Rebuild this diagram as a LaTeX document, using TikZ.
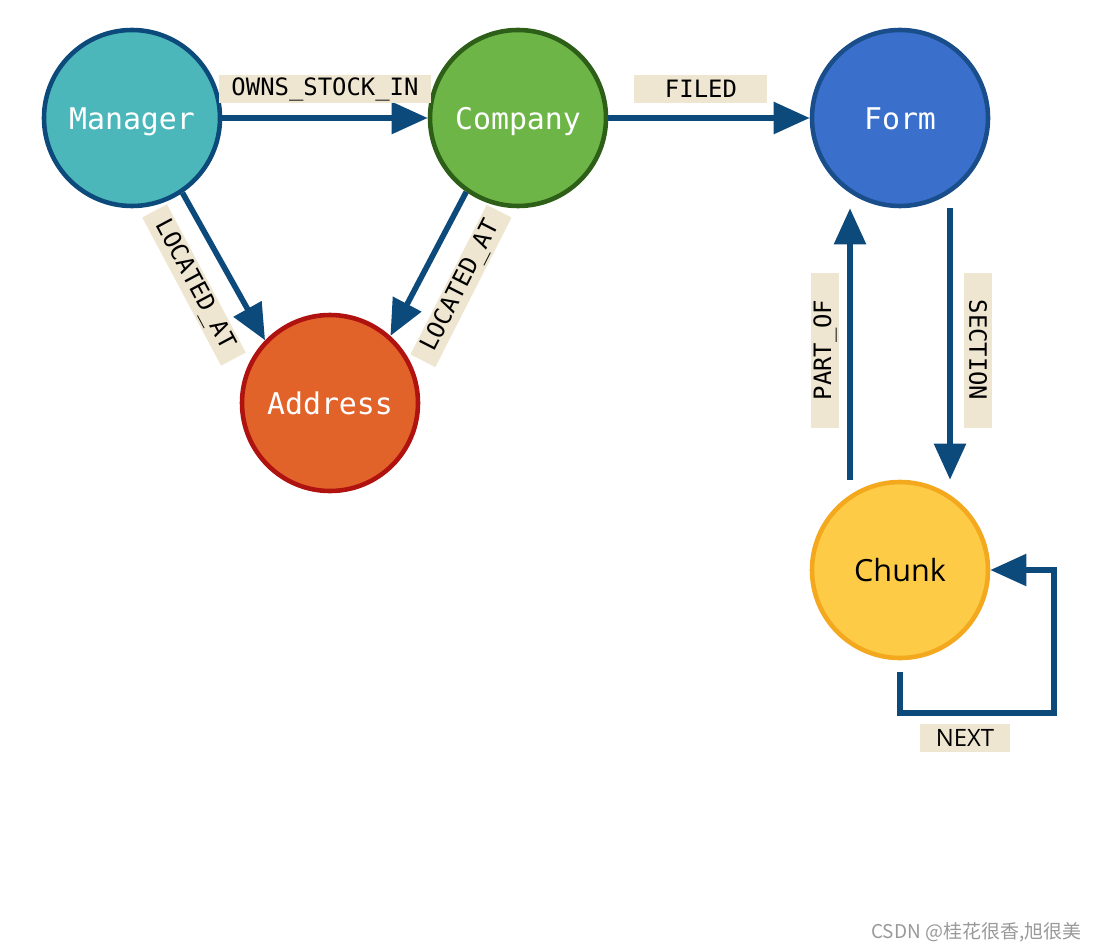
\documentclass[tikz,border=0pt]{standalone}
\usepackage{fontspec}
\usepackage{xcolor}
\usepackage{tikz}
\usetikzlibrary{arrows.meta,positioning}
\newfontfamily\graphmono{DejaVu Sans Mono}
\newfontfamily\graphsans{Open Sans}
\newfontfamily\cjkmark{Noto Sans CJK SC}
\newcommand{\nodetxt}{\graphmono\fontsize{8.5}{10}\selectfont}
\newcommand{\edgetxt}{\graphmono\fontsize{6.8}{8}\selectfont}
\definecolor{relblue}{HTML}{0D4A7C}
\definecolor{lblbg}{HTML}{EEE6D1}
\definecolor{manfill}{HTML}{4CB7BA}
\definecolor{compfill}{HTML}{6DB547}
\definecolor{compdraw}{HTML}{2D5F18}
\definecolor{formfill}{HTML}{3A70CB}
\definecolor{formdraw}{HTML}{1A4E8A}
\definecolor{addrfill}{HTML}{E2632A}
\definecolor{addrdraw}{HTML}{B0120F}
\definecolor{chunkfill}{HTML}{FDCB45}
\definecolor{chunkdraw}{HTML}{F3A81E}
\tikzset{
  gnode/.style={draw, circle, line width=1.3pt, minimum size=1.76cm, inner sep=0pt,
                font=\nodetxt, text=white, text height=1.6ex, text depth=0.1ex},
  rel/.style={draw=relblue, line width=1.6pt, -{Triangle[length=3.6mm,width=3.1mm]}},
  lbl/.style={fill=lblbg, font=\edgetxt, text=black, inner xsep=1.2mm, inner ysep=0pt,
              minimum height=2.8mm, outer sep=0pt},
}

\begin{document}
\begin{tikzpicture}
    \useasboundingbox (0,0) rectangle (10.97,-9.50);
    % nodes
    \node[gnode, fill=manfill, draw=relblue] (manager) at (1.32,-1.18) {Manager};
    \node[gnode, fill=compfill, draw=compdraw] (company) at (5.18,-1.18) {Company};
    \node[gnode, fill=formfill, draw=formdraw] (form) at (9.00,-1.18) {Form};
    \node[gnode, fill=addrfill, draw=addrdraw] (address) at (3.30,-4.03) {Address};
    \node[gnode, fill=chunkfill, draw=chunkdraw, text=black,
          font=\graphsans\fontsize{8.7}{10}\selectfont] (chunk) at (9.00,-5.70) {Chunk};
    % relationships
    \draw[rel] (manager.east) -- node[lbl, above=1.5mm, pos=0.5]{OWNS\_STOCK\_IN} (company.west);
    \draw[rel] (company.east) -- node[lbl, above=1.5mm, pos=0.46, minimum width=1.33cm]{FILED} (form.west);
    \draw[rel] (manager.-56) -- (address.136);
    \draw[rel] (company.235) -- (address.48);
    \draw[rel] ([xshift=5mm]form.south) -- ([xshift=5mm]chunk.north);
    \draw[rel] ([xshift=-5mm]chunk.north) -- ([xshift=-5mm]form.south);
    \draw[rel] ([yshift=-1.2mm]chunk.south) -- ++(0,-0.41) -| ([xshift=6.4mm]chunk.east) -- (chunk.east);
    % rotated labels
    \node[lbl, minimum width=1.6cm, rotate=-62] (mgrloc) at (1.94,-2.85) {LOCATED\_AT};
    \node[lbl, minimum width=1.6cm, rotate=63] (comploc) at (4.61,-2.86) {LOCATED\_AT};
    \node[lbl, minimum width=1.55cm, rotate=90] (partof) at (8.25,-3.50) {PART\_OF};
    \node[lbl, minimum width=1.55cm, rotate=-90] (section) at (9.78,-3.50) {SECTION};
    \node[lbl, minimum width=0.9cm, font=\graphsans\fontsize{6.8}{8}\selectfont] (next) at (9.65,-7.38) {NEXT};
    % watermark
    \node[anchor=east, text=black!40, inner sep=0pt,
          font=\cjkmark\fontsize{5.4}{6}\selectfont] (mark) at (10.82,-9.32) {CSDN @桂花很香,旭很美};
  \end{tikzpicture}
\end{document}
